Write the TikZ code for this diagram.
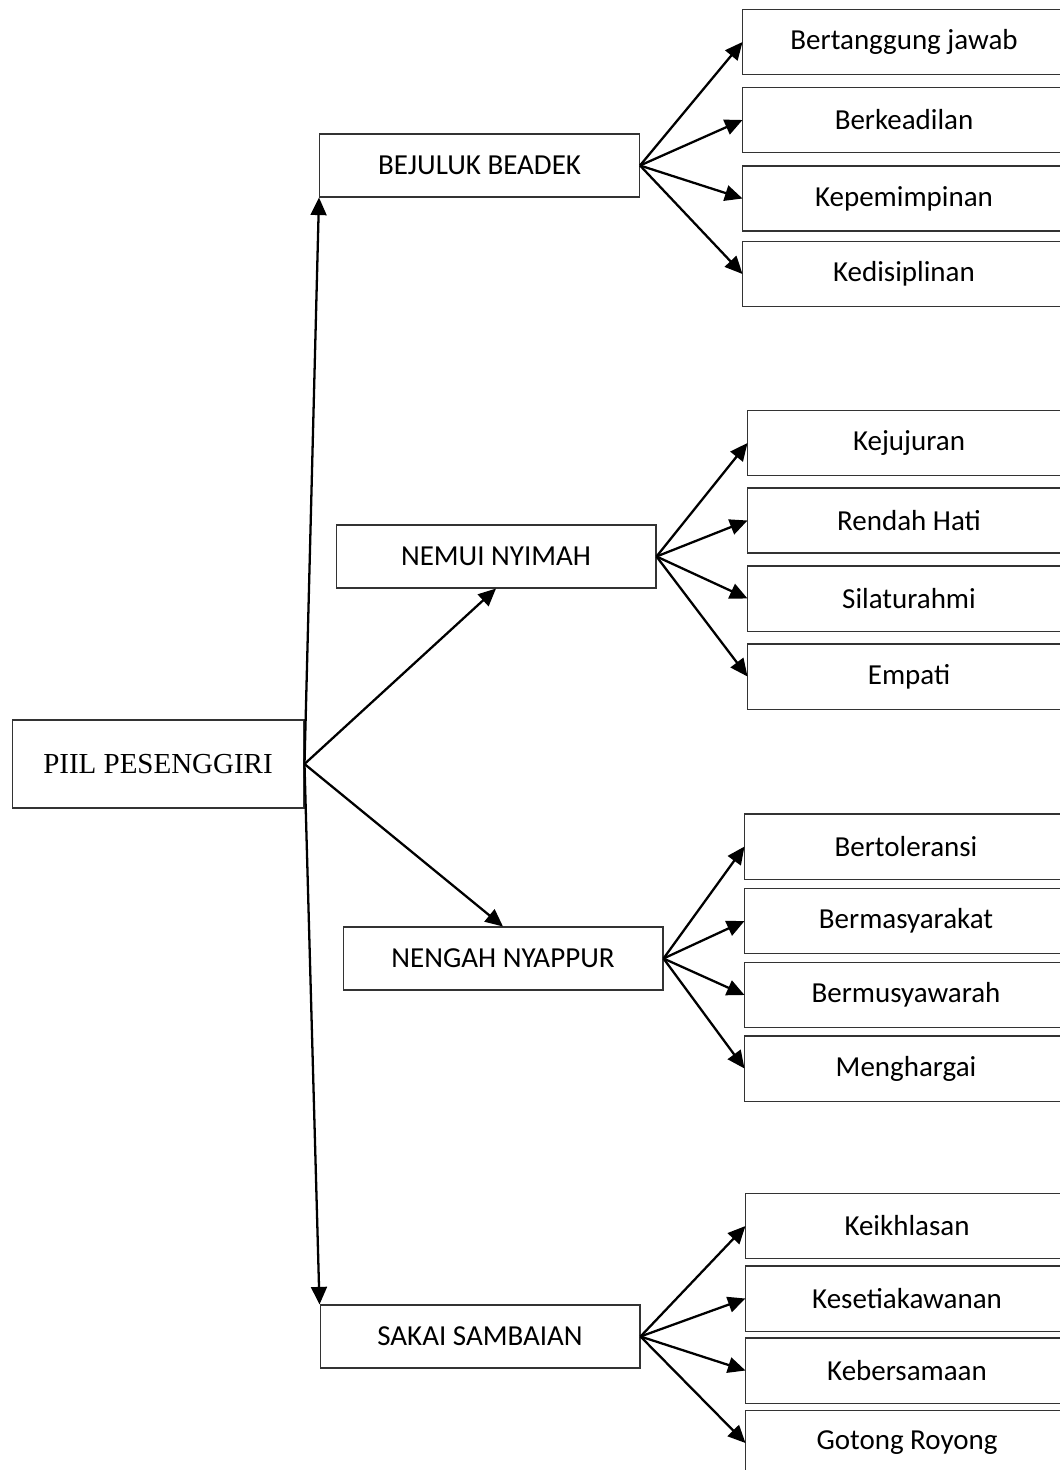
\documentclass[tikz,border=0pt]{standalone}
\usepackage{fontspec}
\setmainfont{Carlito}
\newfontfamily\rootfont{Liberation Serif}
\usetikzlibrary{arrows.meta}

\begin{document}
\begin{tikzpicture}[x=0.02cm,y=-0.02cm,
  box/.style={draw=black!80,line width=0.6pt,inner sep=0pt,font=\fontsize{16.5}{20}\selectfont},
  mainbox/.style={box,minimum width=6.4cm,minimum height=1.26cm},
  subbox/.style={box,draw=none,minimum width=6.44cm,minimum height=1.28cm},
  edge/.style={draw=black!80,line width=0.6pt},
  arr/.style={-{Triangle[length=10pt,width=9pt]},line width=1.3pt}]
\useasboundingbox (0,0) rectangle (1059,1470);

% root
\node[box,minimum width=5.84cm,minimum height=1.76cm,font=\rootfont\fontsize{16.5}{20}\selectfont] (root) at (158,764) {PIIL PESENGGIRI};

% first level
\node[mainbox] (bejuluk) at (479.5,165.5) {BEJULUK BEADEK};
\node[mainbox] (nemui) at (496,556.5) {NEMUI NYIMAH};
\node[mainbox] (nengah) at (503,958.5) {NENGAH NYAPPUR};
\node[mainbox] (sakai) at (480,1336.5) {SAKAI SAMBAIAN};

\draw[arr] (root.east) -- (bejuluk.south west);
\draw[arr] (root.east) -- (nemui.south);
\draw[arr] (root.east) -- (nengah.north);
\draw[arr] (root.east) -- (sakai.north west);

% second level, boxes cut off at the right edge
\foreach \y/\t [count=\i] in {42/Bertanggung jawab,120/Berkeadilan,198.5/Kepemimpinan,274/Kedisiplinan}{
  \node[subbox] (b\i) at (904,\y) {\t};
  \draw[edge] (b\i.north east) -- (b\i.north west) -- (b\i.south west) -- (b\i.south east);
  \draw[arr] (bejuluk.east) -- (b\i.west);
}
\foreach \y/\t [count=\i] in {443/Kejujuran,520.5/Rendah Hati,598.5/Silaturahmi,676.5/Empati}{
  \node[subbox] (n\i) at (909,\y) {\t};
  \draw[edge] (n\i.north east) -- (n\i.north west) -- (n\i.south west) -- (n\i.south east);
  \draw[arr] (nemui.east) -- (n\i.west);
}
\foreach \y/\t [count=\i] in {846.5/Bertoleransi,921/Bermasyarakat,995/Bermusyawarah,1068.5/Menghargai}{
  \node[subbox] (g\i) at (906,\y) {\t};
  \draw[edge] (g\i.north east) -- (g\i.north west) -- (g\i.south west) -- (g\i.south east);
  \draw[arr] (nengah.east) -- (g\i.west);
}
\foreach \y/\t [count=\i] in {1226/Keikhlasan,1298.5/Kesetiakawanan,1370.5/Kebersamaan,1443/Gotong Royong}{
  \node[subbox] (s\i) at (907,\y) {\t};
  \draw[edge] (s\i.north east) -- (s\i.north west) -- (s\i.south west) -- (s\i.south east);
  \draw[arr] (sakai.east) -- (s\i.west);
}

\end{tikzpicture}
\end{document}
